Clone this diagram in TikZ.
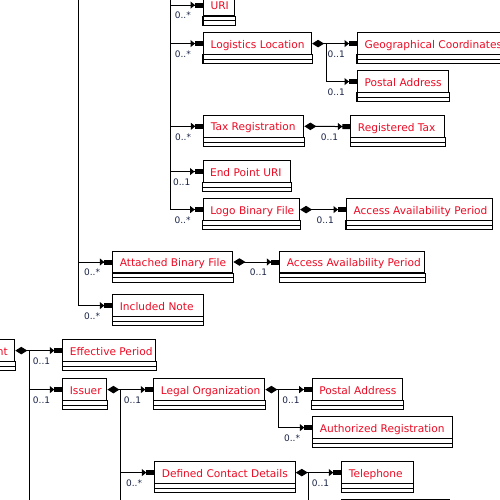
\documentclass[tikz,border=0pt]{standalone}
\usepackage{fontspec}
\setmainfont{DejaVu Sans}
\usetikzlibrary{arrows.meta}
\definecolor{umlred}{RGB}{235,10,35}
\definecolor{multc}{RGB}{25,35,70}
\tikzset{
  clsname/.style={draw, line width=1.1pt, anchor=north west, inner xsep=7pt, inner ysep=0pt,
    minimum height=21.5pt, text height=9.4pt, text depth=0pt,
    font=\fontsize{10.6}{12}\selectfont, text=umlred},
  clsline/.style={line width=1.1pt},
  arr/.style={line width=1pt, -{Triangle[length=4.5pt,width=7pt,sep=0pt]Rectangle[length=8pt,width=5pt]}},
  comp/.style={line width=1pt, {Diamond[length=12pt,width=7.5pt]}-{Triangle[length=4.5pt,width=7pt,sep=0pt]Rectangle[length=8pt,width=5pt]}},
  plainline/.style={line width=1pt},
  mult/.style={font=\fontsize{9}{10}\selectfont, text=multc, inner sep=0pt, anchor=north east}
}
\newcommand\umlcls[5]{%
  \node[clsname] (#1) at (#2,#3) {\makebox[\dimexpr#4pt-14pt\relax][l]{#5}};
  \draw[clsline] (#1.south west) rectangle ([yshift=-9pt]#1.south east);
  \draw[clsline] ([yshift=-4.5pt]#1.south west) -- ([yshift=-4.5pt]#1.south east);
}
\newcommand\mlab[3]{\node[mult] (#1) at ([xshift=-12pt,yshift=-7pt]#2.west) {#3};}
\begin{document}
\begin{tikzpicture}[x=1pt,y=-1pt]
\useasboundingbox (0,0) rectangle (500,500);
\clip (0,0) rectangle (500,500);

\umlcls{uri}{203}{-6.2}{31}{URI}
\umlcls{ll}{203}{32.3}{108}{Logistics Location}
\umlcls{geo}{357}{32.3}{160}{Geographical Coordinates}
\umlcls{pa1}{357}{70.3}{91.3}{Postal Address}
\umlcls{tax}{203.3}{115}{100}{Tax Registration}
\umlcls{regtax}{350.3}{115.3}{94}{Registered Tax}
\umlcls{epuri}{202.5}{160.3}{87.5}{End Point URI}
\umlcls{logo}{202.7}{198.3}{96.3}{Logo Binary File}
\umlcls{aap1}{346}{198.3}{145.7}{Access Availability Period}
\umlcls{abf}{112.3}{250.7}{120}{Attached Binary File}
\umlcls{aap2}{279.3}{250.7}{145}{Access Availability Period}
\umlcls{inote}{112.3}{294.3}{90.4}{Included Note}

\node[clsname, anchor=north east] (doc) at (15.3,339.3) {Document};
\draw[clsline] (doc.south west) rectangle ([yshift=-9pt]doc.south east);
\draw[clsline] ([yshift=-4.5pt]doc.south west) -- ([yshift=-4.5pt]doc.south east);

\umlcls{eff}{62.3}{339.3}{92.7}{Effective Period}
\umlcls{issuer}{62.3}{378.3}{44}{Issuer}
\umlcls{legorg}{153.3}{378.3}{111}{Legal Organization}
\umlcls{pa2}{311.7}{378.3}{90.6}{Postal Address}
\umlcls{authreg}{312.3}{416.3}{139.4}{Authorized Registration}
\umlcls{dcd}{154.3}{461.3}{140.4}{Defined Contact Details}
\umlcls{tel}{341.3}{461.3}{71.4}{Telephone}
\umlcls{nextbox}{340.7}{499.3}{108.3}{}

\coordinate (t170) at (170,-10);
\coordinate (t78) at (78,-10);
\coordinate (bottom) at (0,510);
\coordinate (jll) at ([xshift=14pt]ll.east);
\coordinate (jdoc) at ([xshift=14.2pt]doc.east);
\coordinate (jiss) at ([xshift=13.2pt]issuer.east);
\coordinate (jlo) at ([xshift=13.2pt]legorg.east);
\coordinate (jdcd) at ([xshift=13pt]dcd.east);

% upper group
\draw[arr] (t170) |- (uri.west);    \mlab{m1}{uri}{0..*}
\draw[arr] (t170) |- (ll.west);     \mlab{m2}{ll}{0..*}
\draw[arr] (t170) |- (tax.west);    \mlab{m3}{tax}{0..*}
\draw[arr] (t170) |- (epuri.west);  \mlab{m4}{epuri}{0..1}
\draw[arr] (t170) |- (logo.west);   \mlab{m5}{logo}{0..*}

\draw[comp] (ll.east) -- (geo.west);   \mlab{m6}{geo}{0..1}
\draw[arr] (jll) |- (pa1.west);        \mlab{m7}{pa1}{0..1}
\draw[comp] (tax.east) -- (regtax.west); \mlab{m8}{regtax}{0..1}
\draw[comp] (logo.east) -- (aap1.west);  \mlab{m9}{aap1}{0..1}

\draw[arr] (t78) |- (abf.west);     \mlab{m10}{abf}{0..*}
\draw[arr] (t78) |- (inote.west);   \mlab{m11}{inote}{0..*}
\draw[comp] (abf.east) -- (aap2.west); \mlab{m12}{aap2}{0..1}

% lower group
\draw[comp] (doc.east) -- (eff.west);  \mlab{m13}{eff}{0..1}
\draw[arr] (jdoc) |- (issuer.west);    \mlab{m14}{issuer}{0..1}
\draw[plainline] (jdoc) -- (jdoc |- bottom);

\draw[comp] (issuer.east) -- (legorg.west); \mlab{m15}{legorg}{0..1}
\draw[arr] (jiss) |- (dcd.west);            \mlab{m16}{dcd}{0..*}
\draw[plainline] (jiss) -- (jiss |- bottom);

\draw[comp] (legorg.east) -- (pa2.west);    \mlab{m17}{pa2}{0..1}
\draw[arr] (jlo) |- (authreg.west);         \mlab{m18}{authreg}{0..*}

\draw[comp] (dcd.east) -- (tel.west);       \mlab{m19}{tel}{0..1}
\draw[arr] (jdcd) |- (nextbox.west);
\end{tikzpicture}
\end{document}
